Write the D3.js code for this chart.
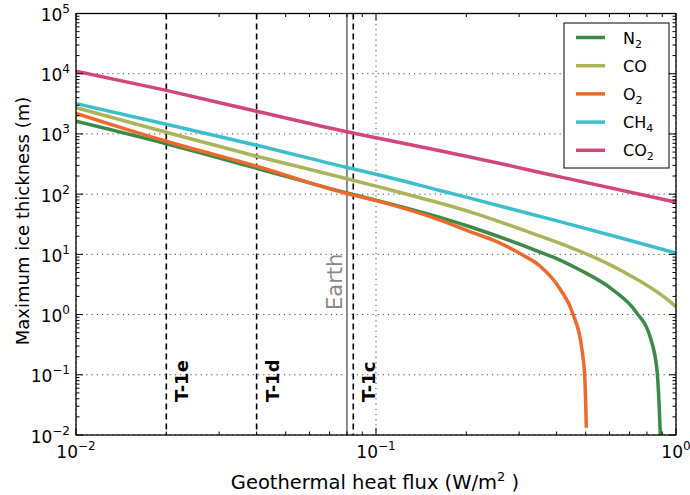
<!DOCTYPE html>
<html><head><meta charset="utf-8">
<script src="https://cdn.jsdelivr.net/npm/d3@7"></script>
<style>
body{margin:0;background:#fff}
svg{display:block}
text{font-family:"DejaVu Sans",sans-serif}
</style>
</head><body>
<svg id="c" width="690" height="495"></svg>
<script>
// ---- data ----
const seriesNames = ["N2", "CO", "O2", "CH4", "CO2"];
const legendBase = ["N", "CO", "O", "CH", "CO"];
const legendSub = ["2", "", "2", "4", "2"];
const seriesColors = ["#3b8a47", "#abb45a", "#ec6a2c", "#3cbfca", "#d1467b"];

const fluxN2 = [0.01, 0.02, 0.04, 0.08, 0.1, 0.1634, 0.2057, 0.352, 0.4107, 0.4786, 0.6166, 0.741, 0.819, 0.864, 0.878, 0.888];
const thickN2 = [1622, 687, 269.7, 105, 79.5, 41.1, 28.7, 10.93, 8.05, 5.5, 2.56, 1.053, 0.431, 0.121, 0.0343, 0.0084];

const fluxCO = [0.01, 0.02, 0.04, 0.08, 0.1, 0.1634, 0.2057, 0.352, 0.4107, 0.651, 0.955, 1.0];
const thickCO = [2735, 1065, 426, 180.6, 135.6, 70.9, 50.9, 20.1, 15.23, 5.5, 1.64, 1.34];

const fluxO2 = [0.01, 0.02, 0.04, 0.08, 0.1, 0.1634, 0.2057, 0.2591, 0.302, 0.352, 0.4107, 0.4535, 0.486, 0.497, 0.5023];
const thickO2 = [2200, 755.5, 291, 101.9, 78.0, 37.1, 23.9, 15.4, 10.3, 6.4, 2.66, 1.025, 0.2595, 0.0826, 0.0132];

const fluxCH4 = [0.01, 0.02, 0.04, 0.08, 0.1, 0.1634, 0.2057, 0.4107, 0.651, 1.0];
const thickCH4 = [3186, 1446, 649, 277, 214.5, 115.1, 85.8, 34.9, 18.9, 10.52];

const fluxCO2 = [0.01, 0.02, 0.04, 0.08, 0.1, 0.1634, 0.2057, 0.4107, 1.0];
const thickCO2 = [11055, 5292, 2375, 1086, 864, 524, 415, 193.5, 73.7];

const xTickExponents = [-2, -1, 0];
const yTickExponents = [-2, -1, 0, 1, 2, 3, 4, 5];

const markerNames = ["T-1e", "T-1d", "T-1c"];
const markerFlux = [0.02, 0.04, 0.084];
const earthFlux = 0.08;
const earthLabel = "Earth";

const xLabel = "Geothermal heat flux (W/m";
const yLabel = "Maximum ice thickness (m)";

// ---- layout ----
const svg = d3.select("#c");
const L = 76, R = 676, T = 13.5, B = 435;
const x = d3.scaleLog().domain([0.01, 1]).range([L, R]);
const y = d3.scaleLog().domain([0.01, 1e5]).range([B, T]);

const fluxes = [fluxN2, fluxCO, fluxO2, fluxCH4, fluxCO2];
const thicks = [thickN2, thickCO, thickO2, thickCH4, thickCO2];

svg.append("defs").append("clipPath").attr("id", "clip")
  .append("rect").attr("x", L).attr("y", T).attr("width", R - L).attr("height", B - T);

// grid
const grid = svg.append("g");
yTickExponents.forEach(e => {
  const v = Math.pow(10, e);
  grid.append("line").attr("x1", L).attr("x2", R).attr("y1", y(v)).attr("y2", y(v))
    .attr("stroke", "#444").attr("stroke-width", 1).attr("stroke-dasharray", "1.2,4");
});
xTickExponents.forEach(e => {
  const v = Math.pow(10, e);
  grid.append("line").attr("x1", x(v)).attr("x2", x(v)).attr("y1", T).attr("y2", B)
    .attr("stroke", "#444").attr("stroke-width", 1).attr("stroke-dasharray", "1.2,4");
});

// vertical reference lines
const ref = svg.append("g");
ref.append("line").attr("x1", x(earthFlux)).attr("x2", x(earthFlux)).attr("y1", T).attr("y2", B)
  .attr("stroke", "#8a8a8a").attr("stroke-width", 2);
markerFlux.forEach(f => {
  ref.append("line").attr("x1", x(f)).attr("x2", x(f)).attr("y1", T).attr("y2", B)
    .attr("stroke", "#000").attr("stroke-width", 1.6).attr("stroke-dasharray", "6,4");
});

// series
const line = d3.line().x(d => x(d[0])).y(d => y(d[1])).curve(d3.curveMonotoneX);
const lines = svg.append("g").attr("clip-path", "url(#clip)");
seriesNames.forEach((n, i) => {
  const pts = fluxes[i].map((f, j) => [f, thicks[i][j]]);
  lines.append("path").attr("d", line(pts)).attr("fill", "none")
    .attr("stroke", seriesColors[i]).attr("stroke-width", 3.5).attr("stroke-linejoin", "round");
});

// labels for reference lines
markerFlux.forEach((f, i) => {
  svg.append("text").attr("transform", `translate(${x(f) + 22},402) rotate(-90)`)
    .attr("font-size", 18).attr("font-weight", "bold").attr("fill", "#000").text(markerNames[i]);
});
svg.append("text").attr("transform", `translate(${x(earthFlux) - 4.5},310) rotate(-90)`)
  .attr("font-size", 21).attr("fill", "#8a8a8a").text(earthLabel);

// frame
svg.append("rect").attr("x", L).attr("y", T).attr("width", R - L).attr("height", B - T)
  .attr("fill", "none").attr("stroke", "#000").attr("stroke-width", 1.3);

// ticks
const tk = svg.append("g").attr("stroke", "#000").attr("stroke-width", 1);
function yTick(v, len) {
  tk.append("line").attr("x1", L).attr("x2", L + len).attr("y1", y(v)).attr("y2", y(v));
  tk.append("line").attr("x1", R).attr("x2", R - len).attr("y1", y(v)).attr("y2", y(v));
}
function xTick(v, len) {
  tk.append("line").attr("y1", B).attr("y2", B - len).attr("x1", x(v)).attr("x2", x(v));
  tk.append("line").attr("y1", T).attr("y2", T + len).attr("x1", x(v)).attr("x2", x(v));
}
yTickExponents.forEach((e, k) => {
  yTick(Math.pow(10, e), 7);
  if (k < yTickExponents.length - 1) for (let m = 2; m <= 9; m++) yTick(m * Math.pow(10, e), 3.5);
});
xTickExponents.forEach((e, k) => {
  xTick(Math.pow(10, e), 7);
  if (k < xTickExponents.length - 1) for (let m = 2; m <= 9; m++) xTick(m * Math.pow(10, e), 3.5);
});

// tick labels
function expLabel(g, e) {
  g.append("tspan").attr("font-size", 17).text("10");
  g.append("tspan").attr("font-size", 12).attr("dy", -8).text(String(e).replace("-", "\u2212"));
}
yTickExponents.forEach(e => {
  const t = svg.append("text").attr("x", 70).attr("y", y(Math.pow(10, e)) + 7.5)
    .attr("text-anchor", "end").attr("fill", "#000");
  expLabel(t, e);
});
xTickExponents.forEach(e => {
  const t = svg.append("text").attr("x", x(Math.pow(10, e))).attr("y", 458)
    .attr("text-anchor", "middle").attr("fill", "#000");
  expLabel(t, e);
});

// axis titles
const xt = svg.append("text").attr("x", 375).attr("y", 489).attr("text-anchor", "middle")
  .attr("font-size", 19.5).attr("fill", "#000");
xt.append("tspan").text(xLabel);
xt.append("tspan").attr("font-size", 13).attr("dy", -8).text("2");
xt.append("tspan").attr("dy", 8).text("\u00a0)");
svg.append("text").attr("transform", "translate(29,221) rotate(-90)").attr("text-anchor", "middle")
  .attr("font-size", 18).attr("fill", "#000").text(yLabel);

// legend
const lg = svg.append("g");
lg.append("rect").attr("x", 564).attr("y", 23).attr("width", 105).attr("height", 145)
  .attr("fill", "#fff").attr("stroke", "#000").attr("stroke-width", 1);
seriesNames.forEach((n, i) => {
  const yy = 37.5 + i * 28.2;
  lg.append("line").attr("x1", 576).attr("x2", 605).attr("y1", yy).attr("y2", yy)
    .attr("stroke", seriesColors[i]).attr("stroke-width", 3.5);
  const t = lg.append("text").attr("x", 623).attr("y", yy + 6).attr("font-size", 16).attr("fill", "#000");
  t.append("tspan").text(legendBase[i]);
  if (legendSub[i]) t.append("tspan").attr("font-size", 11).attr("dy", 4).text(legendSub[i]);
});
</script>
</body></html>
